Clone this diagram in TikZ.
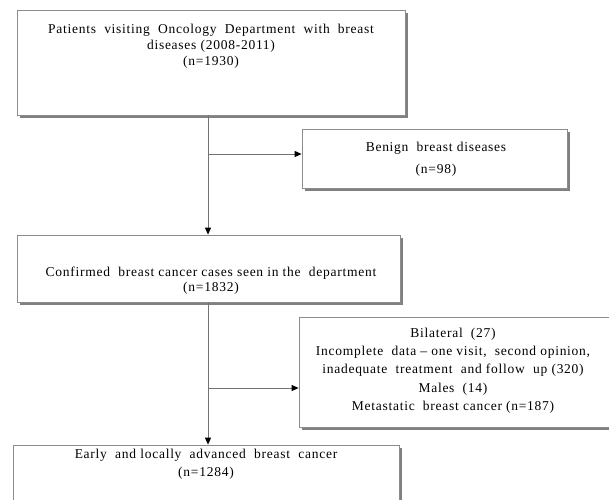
\documentclass[tikz,border=0pt]{standalone}
\usepackage{fontspec}
\setmainfont[LetterSpace=5.5]{Liberation Serif}
\usetikzlibrary{arrows.meta,shadows}
\begin{document}
\begin{tikzpicture}[x=1pt,y=-1pt,
  box/.style={draw=black!45, line width=0.8pt, fill=white, rectangle, inner sep=0pt,
    drop shadow={shadow xshift=3pt, shadow yshift=-3pt, fill=black!50, opacity=1}},
  txt/.style={align=center, inner sep=0pt, font=\fontsize{13.5}{16}\selectfont},
  conn/.style={draw=black!55, line width=1pt},
  arr/.style={conn, -{Triangle[length=7pt,width=6pt,color=black]}}]
\clip (0,0) rectangle (609,499);
\fill[white] (0,0) rectangle (609,499);
% boxes
\node[box, minimum width=388pt, minimum height=105pt] (b1) at (211,62.5) {};
\node[box, minimum width=265pt, minimum height=59pt] (b2) at (434.5,158.5) {};
\node[box, minimum width=383pt, minimum height=67pt] (b3) at (208.5,268.5) {};
\node[box, minimum width=321pt, minimum height=110pt] (b4) at (459.5,372) {};
\node[box, minimum width=386pt, minimum height=75pt] (b5) at (206,482.5) {};
% texts
\node[txt, font=\fontsize{13.5}{16}\selectfont] (t1) at (211,46) {Patients\ \ visiting\ \ Oncology\ \ Department\ \ with\ \ breast\\diseases (2008-2011)\\(n=1930)};
\node[txt, font=\fontsize{13.5}{22}\selectfont] (t2) at (436,159) {Benign\ \ breast diseases\\(n=98)};
\node[txt, font=\fontsize{13.5}{15}\selectfont] (t3) at (211,280.5) {Confirmed\ \ breast cancer cases seen in the\ \ department\\(n=1832)};
\node[txt, font=\fontsize{13.5}{18.3}\selectfont] (t4) at (453,370.5) {Bilateral\ \ (27)\\Incomplete\ \ data -- one visit,\ \ second opinion,\\inadequate\ \ treatment\ \ and follow\ \ up (320)\\Males\ \ (14)\\Metastatic\ \ breast cancer (n=187)};
\node[txt, font=\fontsize{13.5}{18}\selectfont] (t5) at (206,464) {Early\ \ and locally\ \ advanced\ \ breast\ \ cancer\\(n=1284)};
% connectors
\coordinate (j1) at (208,154);
\coordinate (j2) at (208,388);
\draw[arr] (b1.south -| j1) -- (b3.north -| j1);
\draw[arr] (j1) -- (b2.west |- j1);
\draw[arr] (b3.south -| j2) -- (b5.north -| j2);
\draw[arr] (j2) -- (b4.west |- j2);
\end{tikzpicture}
\end{document}
